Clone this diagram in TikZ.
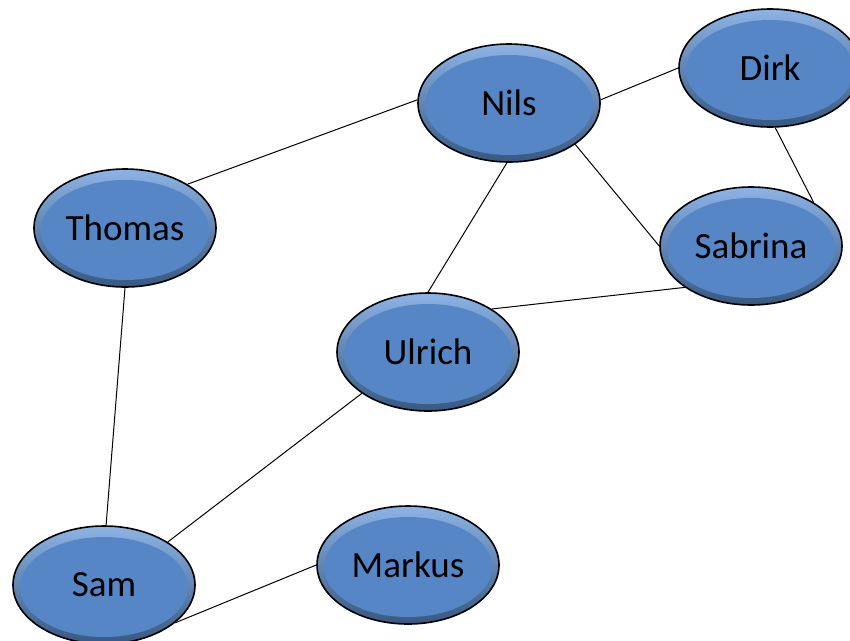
\documentclass[tikz,border=0pt]{standalone}
\usepackage{fontspec}
\setmainfont{Carlito}
\usetikzlibrary{shapes.geometric}

\definecolor{nodeblue}{HTML}{5686C5}
\definecolor{rimlight}{HTML}{8DB4E6}
\definecolor{rimdark}{HTML}{36587F}

\tikzset{
  person/.style={ellipse, draw=black, line width=1.6pt, inner sep=0pt,
    minimum width=182pt, minimum height=118pt,
    font=\fontsize{37}{44}\selectfont,
    path picture={
      \shade[top color=rimlight, bottom color=rimdark]
        (path picture bounding box.center) ellipse [x radius=93pt, y radius=60pt];
      \fill[nodeblue]
        ([yshift=-2pt]path picture bounding box.center) ellipse [x radius=84pt, y radius=50pt];
    }},
  link/.style={line width=1pt}
}

\begin{document}
\begin{tikzpicture}[x=1pt,y=-1pt]
  \useasboundingbox (0,0) rectangle (850,640);
  \node[person] (nils) at (509,103) {Nils};
  \node[person] (dirk) at (770,68) {Dirk};
  \node[person] (thomas) at (125,228) {Thomas};
  \node[person] (sabrina) at (751,246) {Sabrina};
  \node[person] (ulrich) at (428,352) {Ulrich};
  \node[person] (sam) at (104,585) {Sam};
  \node[person] (markus) at (408,565) {Markus};
  \draw[link] (thomas.35) -- (nils.178);
  \draw[link] (nils.2) -- (dirk.180);
  \draw[link] (nils.-32) -- (sabrina.180);
  \draw[link] (dirk.-85) -- (sabrina.35);
  \draw[link] (nils.-92) -- (ulrich.90);
  \draw[link] (ulrich.34) -- (sabrina.212);
  \draw[link] (thomas.-90) -- (sam.88);
  \draw[link] (ulrich.212) -- (sam.34);
  \draw[link] (sam.-28) -- (markus.180);
\end{tikzpicture}
\end{document}
